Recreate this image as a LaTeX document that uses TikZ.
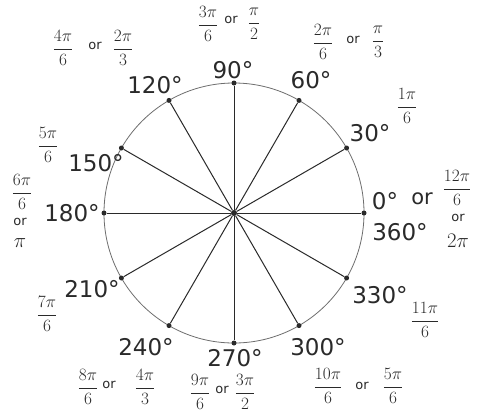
\documentclass[tikz,border=0pt]{standalone}
\usepackage{fontspec}
\usepackage{amsmath}
\usetikzlibrary{calc}
\newfontfamily\degfont{DejaVu Sans}
\definecolor{Ink}{HTML}{2A2A2A}
\definecolor{Rim}{HTML}{6E6E6E}

\begin{document}
\begin{tikzpicture}[x=1pt,y=1pt,
  deg/.style={inner sep=0pt,text=Ink,font=\degfont\fontsize{23}{26}\selectfont},
  frc/.style={inner sep=0pt,text=Ink,font=\fontsize{18}{21}\selectfont},
  orw/.style={inner sep=0pt,text=Ink,font=\degfont\fontsize{13}{15}\selectfont},
  dot/.style={circle,fill=Ink,inner sep=0pt,minimum size=5pt},
  spoke/.style={Ink,line width=1pt},
  rim/.style={Rim,line width=0.8pt}]
\useasboundingbox (0,0) rectangle (478,-416);
\fill[white] (0,0) rectangle (478,-416);
\coordinate (O) at (234,-213);
\draw[rim] (O) circle (130);
\node[dot] (d0) at ($(O)+(0:130)$) {};
\node[dot] (d30) at ($(O)+(30:130)$) {};
\node[dot] (d60) at ($(O)+(60:130)$) {};
\node[dot] (d90) at ($(O)+(90:130)$) {};
\node[dot] (d120) at ($(O)+(120:130)$) {};
\node[dot] (d150) at ($(O)+(150:130)$) {};
\node[dot] (d180) at ($(O)+(180:130)$) {};
\node[dot] (d210) at ($(O)+(210:130)$) {};
\node[dot] (d240) at ($(O)+(240:130)$) {};
\node[dot] (d270) at ($(O)+(270:130)$) {};
\node[dot] (d300) at ($(O)+(300:130)$) {};
\node[dot] (d330) at ($(O)+(330:130)$) {};
\node[dot,minimum size=6pt] (c) at (O) {};
\draw[spoke] (c) -- (d0);
\draw[spoke] (c) -- (d30);
\draw[spoke] (c) -- (d60);
\draw[spoke] (c) -- (d90);
\draw[spoke] (c) -- (d120);
\draw[spoke] (c) -- (d150);
\draw[spoke] (c) -- (d180);
\draw[spoke] (c) -- (d210);
\draw[spoke] (c) -- (d240);
\draw[spoke] (c) -- (d270);
\draw[spoke] (c) -- (d300);
\draw[spoke] (c) -- (d330);
% degree labels
\node[deg] (l90) at (233,-70) {90°};
\node[deg] (l60) at (311,-80) {60°};
\node[deg] (l30) at (370,-133) {30°};
\node[deg] (l0) at (385,-201) {0°};
\node[deg] (l360) at (400,-232) {360°};
\node[deg] (l330) at (380,-295) {330°};
\node[deg] (l300) at (318,-347) {300°};
\node[deg] (l270) at (235,-358) {270°};
\node[deg] (l240) at (146,-347) {240°};
\node[deg] (l210) at (92,-289) {210°};
\node[deg] (l180) at (72,-213) {180°};
\node[deg] (l150) at (96,-163) {150°};
\node[deg] (l120) at (155,-85) {120°};
% radian labels
\node[frc] (r90a) at (208,-24) {$\dfrac{3\pi}{6}$};
\node[orw] (o90) at (231,-20) {or};
\node[frc] (r90b) at (254,-24) {$\dfrac{\pi}{2}$};
\node[frc] (r60a) at (323,-42) {$\dfrac{2\pi}{6}$};
\node[orw] (o60) at (353,-40) {or};
\node[frc] (r60b) at (378,-42) {$\dfrac{\pi}{3}$};
\node[frc] (r30) at (407,-106) {$\dfrac{1\pi}{6}$};
\node[orw,font=\degfont\fontsize{21}{24}\selectfont] (o0a) at (422,-199) {or};
\node[frc] (r0a) at (457,-188) {$\dfrac{12\pi}{6}$};
\node[orw] (o0b) at (458,-218) {or};
\node[frc,font=\fontsize{22}{24}\selectfont] (r0b) at (458,-241) {$2\pi$};
\node[frc] (r330) at (425,-320) {$\dfrac{11\pi}{6}$};
\node[frc] (r300a) at (328,-386) {$\dfrac{10\pi}{6}$};
\node[orw] (o300) at (362,-386) {or};
\node[frc] (r300b) at (393,-386) {$\dfrac{5\pi}{6}$};
\node[frc] (r270a) at (200,-392) {$\dfrac{9\pi}{6}$};
\node[orw] (o270) at (222,-390) {or};
\node[frc] (r270b) at (245,-392) {$\dfrac{3\pi}{2}$};
\node[frc] (r240a) at (88,-387) {$\dfrac{8\pi}{6}$};
\node[orw] (o240) at (109,-385) {or};
\node[frc] (r240b) at (145,-387) {$\dfrac{4\pi}{3}$};
\node[frc] (r210) at (47,-314) {$\dfrac{7\pi}{6}$};
\node[frc] (r180a) at (22,-192) {$\dfrac{6\pi}{6}$};
\node[orw] (o180) at (20,-222) {or};
\node[frc,font=\fontsize{22}{24}\selectfont] (r180b) at (20,-243) {$\pi$};
\node[frc] (r150) at (48,-145) {$\dfrac{5\pi}{6}$};
\node[frc] (r120a) at (63,-48) {$\dfrac{4\pi}{6}$};
\node[orw] (o120) at (95,-46) {or};
\node[frc] (r120b) at (123,-48) {$\dfrac{2\pi}{3}$};
\end{tikzpicture}
\end{document}
